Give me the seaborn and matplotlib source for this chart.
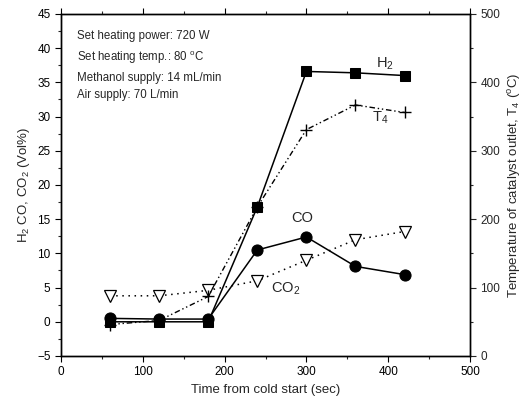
import matplotlib
matplotlib.use("Agg")
import matplotlib.pyplot as plt
import seaborn as sns
import pandas as pd
from matplotlib.ticker import MultipleLocator

sns.set_style("ticks")
plt.rcParams['font.family'] = ['Liberation Sans', 'DejaVu Sans']
plt.rcParams['mathtext.fontset'] = 'custom'
plt.rcParams['mathtext.rm'] = 'Liberation Sans'
plt.rcParams['mathtext.it'] = 'Liberation Sans'

time = [60, 120, 180, 240, 300, 360, 420]
h2 = [0.0, 0.0, 0.0, 16.8, 36.6, 36.4, 36.0]
co = [0.5, 0.4, 0.4, 10.5, 12.4, 8.1, 6.9]
co2 = [3.8, 3.8, 4.6, 6.0, 9.0, 12.0, 13.2]
t4 = [46, 52, 87, 218, 331, 367, 356]

df = pd.DataFrame({"time": time, "H2": h2, "CO": co, "CO2": co2, "T4": t4})

fig = plt.figure(figsize=(5.28, 3.98), dpi=100)
ax = fig.add_axes([61/528, 1 - 356/398, (470-61)/528, (356-14)/398])
ax2 = ax.twinx()

sns.lineplot(data=df, x="time", y="H2", ax=ax, color="black", lw=1.1,
             marker="s", markersize=7, markeredgecolor="black")
sns.lineplot(data=df, x="time", y="CO", ax=ax, color="black", lw=1.1,
             marker="o", markersize=8, markeredgecolor="black")
sns.lineplot(data=df, x="time", y="CO2", ax=ax, color="black", lw=1.1,
             linestyle=(0, (1, 3)), marker="v", markersize=9,
             markerfacecolor="white", markeredgecolor="black", markeredgewidth=0.9)
sns.lineplot(data=df, x="time", y="T4", ax=ax2, color="black", lw=1.0,
             linestyle=(0, (4, 2, 1, 2, 1, 2)), marker="+", markersize=9,
             markeredgewidth=1.0, markeredgecolor="black")

ax.set_xlim(0, 500)
ax.set_ylim(-5, 45)
ax2.set_ylim(0, 500)
ax.xaxis.set_major_locator(MultipleLocator(100))
ax.xaxis.set_minor_locator(MultipleLocator(50))
ax.yaxis.set_major_locator(MultipleLocator(5))
ax.yaxis.set_minor_locator(MultipleLocator(2.5))
ax2.yaxis.set_major_locator(MultipleLocator(100))
ax2.yaxis.set_minor_locator(MultipleLocator(50))

for a in (ax, ax2):
    for s in a.spines.values():
        s.set_visible(True)
        s.set_linewidth(1.0)
        s.set_color("black")
ax.tick_params(axis="both", which="major", direction="out", length=4, width=0.8,
               labelsize=8.5, colors="black", top=True)
ax.tick_params(axis="both", which="minor", direction="out", length=2.5, width=0.8, top=True)
ax2.tick_params(axis="y", which="major", direction="out", length=4, width=0.8, labelsize=8.5)
ax2.tick_params(axis="y", which="minor", direction="out", length=2.5, width=0.8)

ax.set_xlabel("Time from cold start (sec)", fontsize=9.5)
ax.set_ylabel("H$_2$ CO, CO$_2$ (Vol%)", fontsize=9.5)
ax2.set_ylabel("Temperature of catalyst outlet, T$_4$ ($^o$C)", fontsize=9.5)

ax.text(385, 37.1, "H$_2$", fontsize=10.5)
ax.text(380, 29.2, "T$_4$", fontsize=10.5)
ax.text(282, 14.6, "CO", fontsize=10.5)
ax.text(257, 4.3, "CO$_2$", fontsize=10.5)

info = ["Set heating power: 720 W", "Set heating temp.: 80 $^o$C",
        "Methanol supply: 14 mL/min", "Air supply: 70 L/min"]
ax.text(19, 42.6, "\n".join(info), fontsize=8.3, va="top", linespacing=1.6)

fig.savefig("out.png", dpi=100)
